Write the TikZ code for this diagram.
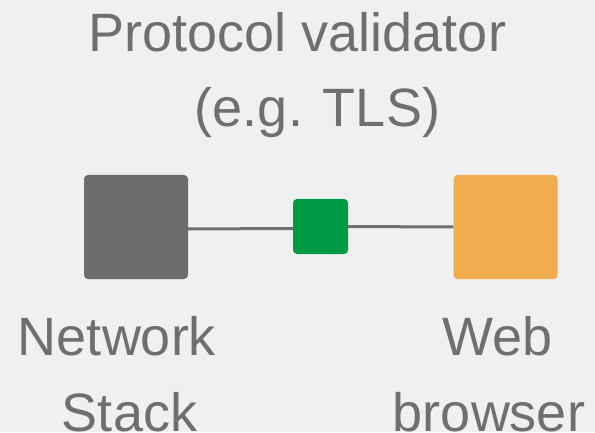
\documentclass[tikz,border=0pt]{standalone}
\usepackage{fontspec}
\setmainfont{Liberation Sans}
\definecolor{bg}{HTML}{F0F0F0}
\definecolor{txt}{HTML}{6F6F6F}
\definecolor{darkbox}{HTML}{6D6D6D}
\definecolor{greenbox}{HTML}{009A44}
\definecolor{orangebox}{HTML}{F0AC4F}
\definecolor{wire}{HTML}{6F6F6F}
\begin{document}
\begin{tikzpicture}[x=1pt,y=1pt,
  lbl/.style={anchor=base,inner sep=0pt,text=txt,font=\fontsize{54}{77}\selectfont},
  bigbox/.style={draw=none,rounded corners=4pt,minimum width=104pt,minimum height=104pt,inner sep=0pt},
  smallbox/.style={draw=none,rounded corners=4pt,minimum width=55pt,minimum height=55pt,inner sep=0pt},
  conn/.style={draw=wire,line width=3pt}]
\fill[bg] (0,0) rectangle (595,432);
\useasboundingbox (0,0) rectangle (595,432);
\node[bigbox,fill=darkbox] (ns) at (136,205) {};
\node[smallbox,fill=greenbox] (pv) at (320.5,205.5) {};
\node[bigbox,fill=orangebox] (wb) at (505.5,205) {};
\draw[conn] ([yshift=-2pt]ns.east) -- ([yshift=-2pt]pv.west);
\draw[conn] ([yshift=0pt]pv.east) -- ([yshift=0pt]wb.west);
\node[lbl] (t1) at (297.5,380) {Protocol validator};
\node[lbl] (t2) at (317.5,305) {(e.g. TLS)};
\node[lbl] (n1) at (117,77) {Network};
\node[lbl] (n2) at (129.5,1) {Stack};
\node[lbl] (w1) at (497.5,77) {Web};
\node[lbl] (w2) at (489,1) {browser};
\end{tikzpicture}
\end{document}
